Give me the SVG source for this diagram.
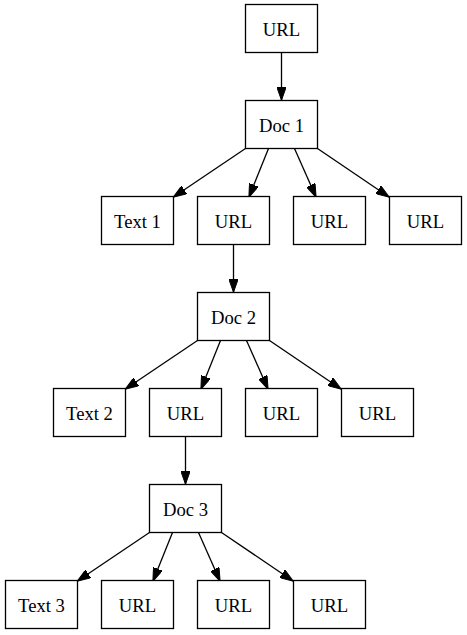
<svg xmlns="http://www.w3.org/2000/svg" width="467" height="635" viewBox="0 0 467 635">
<style>
.n rect{fill:#fff;stroke:#000;stroke-width:1.3}
.n text{font-family:"Liberation Serif","Times New Roman",serif;font-size:18.67px;text-anchor:middle;fill:#000}
.e line{stroke:#000;stroke-width:1.3;marker-end:url(#ah)}
</style>
<defs>
<marker id="ah" viewBox="0 0 13.3 9.4" refX="13" refY="4.7" markerWidth="13.3" markerHeight="9.4" markerUnits="userSpaceOnUse" orient="auto">
<path d="M0,0 L13.3,4.7 L0,9.4 Z" fill="#000" stroke="#000" stroke-width="1"/>
</marker>
</defs>
<rect width="467" height="635" fill="#fff"/>
<g class="e" id="edges">
<line x1="281.5" y1="52.5" x2="281.5" y2="100"/>
<line x1="245.5" y1="148.5" x2="173.5" y2="197"/>
<line x1="268.5" y1="148.5" x2="249" y2="197"/>
<line x1="294.5" y1="148.5" x2="316" y2="197"/>
<line x1="317.5" y1="148.5" x2="389" y2="197"/>
<line x1="233.5" y1="244.5" x2="233.5" y2="292"/>
<line x1="197.5" y1="340.5" x2="125.5" y2="389"/>
<line x1="220.5" y1="340.5" x2="201" y2="389"/>
<line x1="246.5" y1="340.5" x2="268" y2="389"/>
<line x1="269.5" y1="340.5" x2="341" y2="389"/>
<line x1="185.5" y1="436.5" x2="185.5" y2="484"/>
<line x1="149.5" y1="532.5" x2="77.5" y2="581"/>
<line x1="172.5" y1="532.5" x2="153" y2="581"/>
<line x1="198.5" y1="532.5" x2="220" y2="581"/>
<line x1="221.5" y1="532.5" x2="293" y2="581"/>
</g>
<g class="n" id="url0"><rect x="245.5" y="4.5" width="72" height="48"/><text x="281.5" y="35.5">URL</text></g>
<g class="n" id="doc1"><rect x="245.5" y="100.5" width="72" height="48"/><text x="281.5" y="131.5">Doc 1</text></g>
<g class="n" id="text1"><rect x="101.5" y="196.5" width="72" height="48"/><text x="137.5" y="227.5">Text 1</text></g>
<g class="n" id="url1a"><rect x="197.5" y="196.5" width="72" height="48"/><text x="233.5" y="227.5">URL</text></g>
<g class="n" id="url1b"><rect x="293.5" y="196.5" width="72" height="48"/><text x="329.5" y="227.5">URL</text></g>
<g class="n" id="url1c"><rect x="389.5" y="196.5" width="72" height="48"/><text x="425.5" y="227.5">URL</text></g>
<g class="n" id="doc2"><rect x="197.5" y="292.5" width="72" height="48"/><text x="233.5" y="323.5">Doc 2</text></g>
<g class="n" id="text2"><rect x="53.5" y="388.5" width="72" height="48"/><text x="89.5" y="419.5">Text 2</text></g>
<g class="n" id="url2a"><rect x="149.5" y="388.5" width="72" height="48"/><text x="185.5" y="419.5">URL</text></g>
<g class="n" id="url2b"><rect x="245.5" y="388.5" width="72" height="48"/><text x="281.5" y="419.5">URL</text></g>
<g class="n" id="url2c"><rect x="341.5" y="388.5" width="72" height="48"/><text x="377.5" y="419.5">URL</text></g>
<g class="n" id="doc3"><rect x="149.5" y="484.5" width="72" height="48"/><text x="185.5" y="515.5">Doc 3</text></g>
<g class="n" id="text3"><rect x="5.5" y="580.5" width="72" height="48"/><text x="41.5" y="611.5">Text 3</text></g>
<g class="n" id="url3a"><rect x="101.5" y="580.5" width="72" height="48"/><text x="137.5" y="611.5">URL</text></g>
<g class="n" id="url3b"><rect x="197.5" y="580.5" width="72" height="48"/><text x="233.5" y="611.5">URL</text></g>
<g class="n" id="url3c"><rect x="293.5" y="580.5" width="72" height="48"/><text x="329.5" y="611.5">URL</text></g>
</svg>
